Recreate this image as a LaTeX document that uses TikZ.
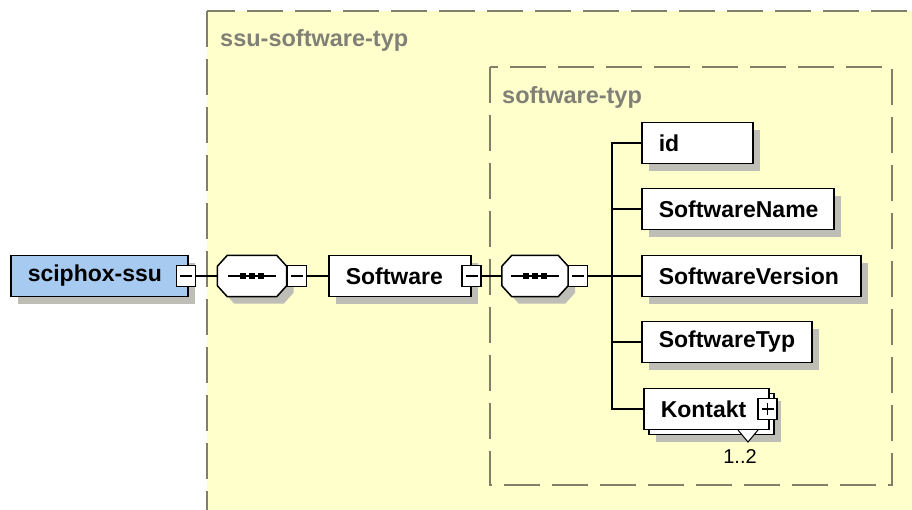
\documentclass[tikz,border=0pt]{standalone}
\usepackage{fontspec}
\setmainfont{Liberation Sans}
\usetikzlibrary{shadows}
\definecolor{xsdyellow}{RGB}{255,255,204}
\definecolor{xsdblue}{RGB}{166,202,240}
\definecolor{xsddash}{RGB}{128,128,104}
\definecolor{xsdlabel}{RGB}{128,128,118}
\definecolor{xsdshadow}{RGB}{190,190,182}
\begin{document}
\begin{tikzpicture}[x=1pt, y=-1pt,
    every node/.style={font=\fontsize{23}{26}\selectfont\bfseries},
    typebox/.style={draw=xsddash, dash pattern=on 36pt off 12pt, line width=1.5pt, fill=xsdyellow},
    typelabel/.style={text=xsdlabel, anchor=base west, inner sep=0pt, font=\fontsize{23.5}{26}\selectfont\bfseries},
    boxshadow/.style={drop shadow={shadow xshift=7pt, shadow yshift=-7pt, fill=xsdshadow, opacity=1}},
    elembox/.style={draw, fill=white, line width=1.5pt, minimum height=41pt, inner xsep=17pt, text width=#1, align=left, anchor=west},
    seqbox/.style={minimum width=69pt, minimum height=41pt, inner sep=0pt},
    minusbox/.style={draw, fill=white, line width=1.2pt, minimum width=19pt, minimum height=21pt, inner sep=0pt,
      path picture={\draw[line width=1.2pt] ([xshift=-6pt]path picture bounding box.center) -- ([xshift=6pt]path picture bounding box.center);}},
    plusbox/.style={minusbox,
      path picture={\draw[line width=1.2pt] ([xshift=-6pt]path picture bounding box.center) -- ([xshift=6pt]path picture bounding box.center)
        ([yshift=-6pt]path picture bounding box.center) -- ([yshift=6pt]path picture bounding box.center);}},
    link/.style={line width=1.3pt}]
  \useasboundingbox (0,0) rectangle (912,509);
  \clip (0,0) rectangle (912,509);
  \fill[white] (0,0) rectangle (912,509);
  % complex types, running off the page
  \draw[typebox] (207,11) rectangle (940,540);
  \node[typelabel] (outerlabel) at (220,46) {ssu-software-typ};
  \draw[typebox] (490,67) rectangle (892,485);
  \node[typelabel] (innerlabel) at (502,103) {software-typ};

  \node[seqbox] (seqA) at (252,276) {};
  \node[seqbox, minimum width=66pt] (seqB) at (535,276) {};
  % the sequence octagons, drawn round their nodes
  \foreach \s in {seqA,seqB}{
    \draw[line width=1.5pt, fill=white, boxshadow]
      ([xshift=10pt]\s.north west) -- ([xshift=-10pt]\s.north east) -- ([yshift=-11pt]\s.north east)
      -- ([yshift=11pt]\s.south east) -- ([xshift=-10pt]\s.south east) -- ([xshift=10pt]\s.south west)
      -- ([yshift=11pt]\s.south west) -- ([yshift=-11pt]\s.north west) -- cycle;
    \draw[line width=1.5pt] ([xshift=-24pt]\s.center) -- ([xshift=24pt]\s.center);
    \foreach \dx in {-9,0,9}
      \fill ([xshift=\dx pt]\s.center) +(-2.6,-2.6) rectangle +(2.6,2.6);
  }

  \node[elembox=143pt, fill=xsdblue, boxshadow] (sciphox) at (10,276) {sciphox-ssu};
  \node[minusbox] (minusA) at (186,276) {};
  \node[minusbox, anchor=west] (minusB) at (seqA.east) {};
  \node[elembox=108pt, boxshadow] (software) at (328,276) {Software};
  \node[minusbox] (minusC) at (software.east) {};
  \node[minusbox, anchor=west] (minusD) at (seqB.east) {};
  \coordinate (fork) at (612,276);

  \node[elembox=77pt, boxshadow] (id) at (641,143) {id};
  \node[elembox=158pt, boxshadow] (swname) at (641,209) {SoftwareName};
  \node[elembox=185pt, boxshadow] (swversion) at (641,276) {SoftwareVersion};
  \node[elembox=136pt, boxshadow] (swtyp) at (641,342) {SoftwareTyp};
  \node[elembox=91pt, boxshadow] (kontaktback) at (648,414) {};
  \draw[line width=1pt, fill=white] (738,430) -- (748,442) -- (758,430);
  \node[elembox=91pt] (kontakt) at (643,409) {Kontakt};
  \node[plusbox] (plusK) at ([xshift=-2pt]kontakt.east) {};
  \node[font=\fontsize{20}{24}\selectfont] (mult) at (740,457) {1..2};

  \draw[link] (minusA) -- (seqA);
  \draw[link] (minusB) -- (software);
  \draw[link] (minusC) -- (seqB);
  \draw[link] (minusD) -- (fork);
  \draw[link] (fork) |- (id.west);
  \draw[link] (fork) |- (swname.west);
  \draw[link] (fork) -- (swversion.west);
  \draw[link] (fork) |- (swtyp.west);
  \draw[link] (fork) |- (kontakt.west);
\end{tikzpicture}
\end{document}
